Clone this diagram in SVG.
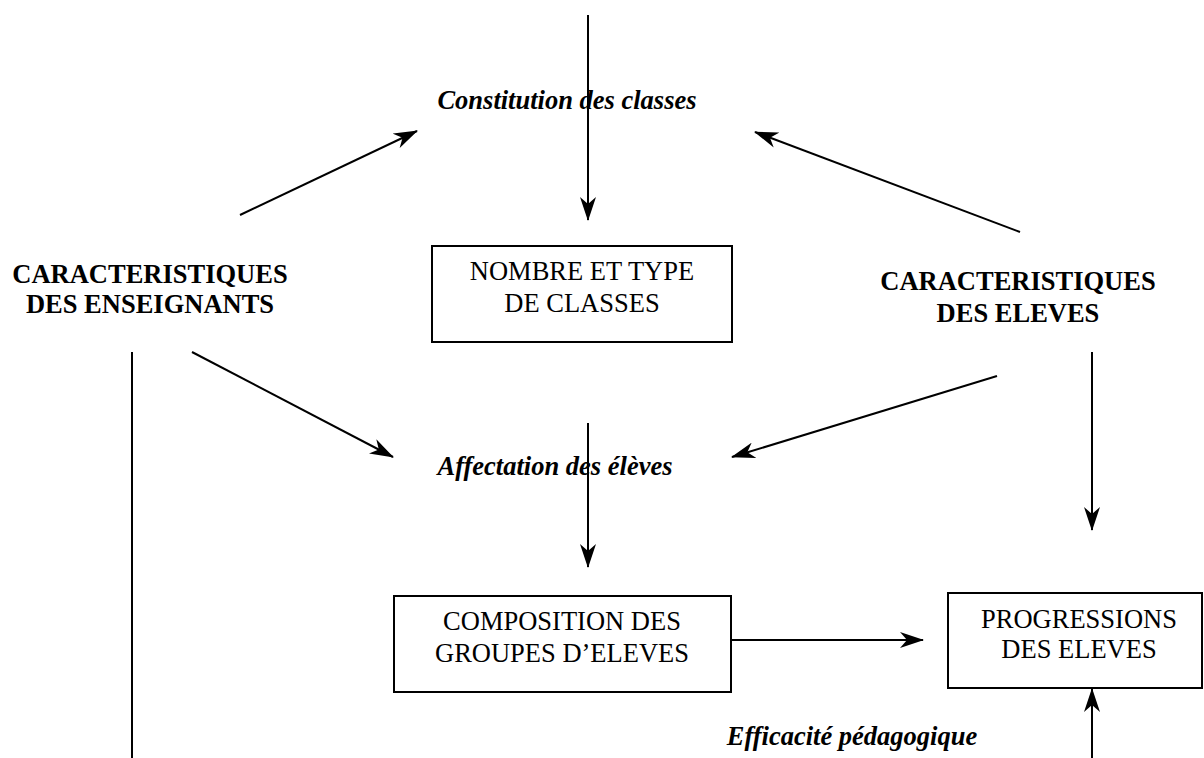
<svg xmlns="http://www.w3.org/2000/svg" width="1204" height="758" viewBox="0 0 1204 758">
<style>
.t{font-family:"Liberation Serif","Times New Roman",serif;font-size:26.5px;fill:#000;text-anchor:middle}
.b{font-weight:bold}
.bi{font-weight:bold;font-style:italic}
.box{fill:#fff;stroke:#000;stroke-width:2}
.c{stroke:#000;stroke-width:2;fill:none}
.a{marker-end:url(#ah)}
</style>
<defs>
<marker id="ah" viewBox="0 0 24 16" refX="23" refY="8" markerWidth="24" markerHeight="16" markerUnits="userSpaceOnUse" orient="auto">
<path d="M0,0 L24,8 L0,16 L7,8 Z" fill="#000"/>
</marker>
</defs>
<rect width="1204" height="758" fill="#fff"/>
<g id="connectors">
<line class="c a" x1="588" y1="15" x2="588" y2="220"/>
<line class="c a" x1="240" y1="215" x2="417" y2="131"/>
<line class="c a" x1="1020" y1="232" x2="755" y2="132"/>
<line class="c a" x1="1092" y1="352" x2="1092" y2="530"/>
<line class="c" x1="132" y1="352" x2="132" y2="758"/>
<line class="c a" x1="192" y1="352" x2="393" y2="457"/>
<line class="c a" x1="997" y1="376" x2="732" y2="457"/>
<line class="c a" x1="588" y1="423" x2="588" y2="567"/>
<line class="c a" x1="731" y1="640" x2="923" y2="640"/>
<line class="c a" x1="1092" y1="758" x2="1092" y2="689"/>
</g>
<g id="constitution">
<text class="t bi" x="567" y="109">Constitution des classes</text>
</g>
<g id="enseignants">
<text class="t b" x="150" y="283">CARACTERISTIQUES</text>
<text class="t b" x="150" y="313">DES ENSEIGNANTS</text>
</g>
<g id="nombre">
<rect class="box" x="432" y="246" width="300" height="96"/>
<text class="t" x="582" y="280">NOMBRE ET TYPE</text>
<text class="t" x="582" y="312">DE CLASSES</text>
</g>
<g id="eleves">
<text class="t b" x="1018" y="290">CARACTERISTIQUES</text>
<text class="t b" x="1018" y="322">DES ELEVES</text>
</g>
<g id="affectation">
<text class="t bi" x="555" y="475">Affectation des élèves</text>
</g>
<g id="composition">
<rect class="box" x="394" y="596" width="337" height="96"/>
<text class="t" x="562" y="630">COMPOSITION DES</text>
<text class="t" x="562" y="662">GROUPES D’ELEVES</text>
</g>
<g id="progressions">
<rect class="box" x="948" y="593" width="254" height="95"/>
<text class="t" x="1079" y="628">PROGRESSIONS</text>
<text class="t" x="1079" y="658">DES ELEVES</text>
</g>
<g id="efficacite">
<text class="t bi" x="852" y="745">Efficacité pédagogique</text>
</g>
</svg>
